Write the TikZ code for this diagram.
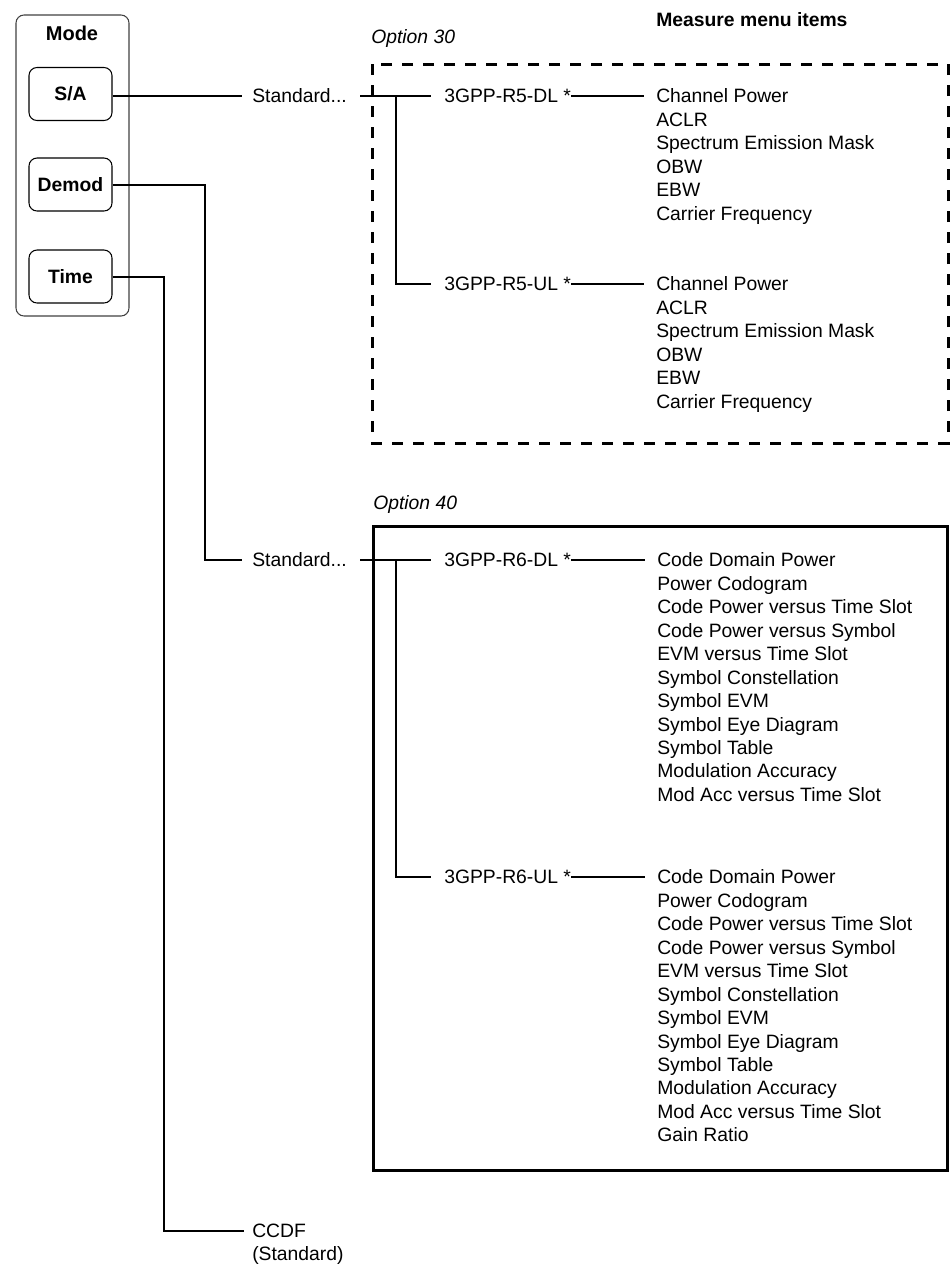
\documentclass[tikz,border=0pt]{standalone}
\usepackage{fontspec}
\setmainfont{Liberation Sans}
\usetikzlibrary{positioning, calc}

\newcommand{\rfiveitems}{Channel Power, ACLR, Spectrum Emission Mask, OBW, EBW, Carrier Frequency}
\newcommand{\rsixitems}{Code Domain Power, Power Codogram, Code Power versus Time Slot, Code Power versus Symbol, EVM versus Time Slot, Symbol Constellation, Symbol EVM, Symbol Eye Diagram, Symbol Table, Modulation Accuracy, Mod Acc versus Time Slot}

\begin{document}
\begin{tikzpicture}[x=0.75pt, y=-0.75pt,
  txt/.style={inner sep=0pt, anchor=west, text height=10.4pt, text depth=0pt,
              font=\fontsize{14.5}{17}\selectfont},
  btn/.style={draw, rounded corners=6pt, line width=0.8pt, minimum width=62.25pt,
              minimum height=39.75pt, text height=10.4pt, text depth=0pt,
              font=\fontsize{14.5}{17}\selectfont\bfseries},
  conn/.style={line width=1.5pt},
  optbox/.style={line width=2.25pt},
]
\useasboundingbox (0,0) rectangle (950,1264);

% Mode panel
\node[draw=black!75, rounded corners=6pt, line width=0.8pt, minimum width=84.75pt,
      minimum height=225.75pt, inner sep=0pt] (panel) at (72.5,165.5) {};
\node[inner sep=0pt, text height=10.7pt, text depth=0pt,
      font=\fontsize{15}{17}\selectfont\bfseries] (modelbl) at (72,33) {Mode};
\node[btn] (sa) at (70.5,94) {S/A};
\node[btn] (demod) at (70.5,184.5) {Demod};
\node[btn] (time) at (70.5,276.5) {Time};

% Headings
\node[txt, font=\fontsize{14.5}{17}\selectfont\bfseries] (menuhdr) at (656,20) {Measure menu items};
\node[txt, font=\fontsize{14.5}{17}\selectfont\itshape] (opt30) at (371,37) {Option 30};
\node[txt, font=\fontsize{14.5}{17}\selectfont\itshape] (opt40) at (373,503) {Option 40};

% Option 30 frame
\draw[optbox, dash pattern=on 8.25pt off 7.5pt] (372,64) rectangle (948,443);

% S/A branch
\node[txt] (std1) at (252,96) {Standard...};
\node[txt] (r5dl) at (444,96) {3GPP-R5-DL *};
\node[txt] (r5ul) at (444,284) {3GPP-R5-UL *};
\coordinate (j1) at (396,96);
\draw[conn] (sa.east |- std1.west) -- ($(std1.west)+(-10,0)$);
\draw[conn] ($(std1.east)+(13,0)$) -- ($(r5dl.west)+(-13,0)$);
\draw[conn] (j1) |- ($(r5ul.west)+(-13,0)$);

\foreach \blk/\ypos in {r5dl/96, r5ul/284} {
  \foreach \itm [count=\i from 0] in \rfiveitems
    \node[txt] (\blk-\i) at (656,\ypos+23.45*\i) {\itm};
  \draw[conn] (\blk.east) -- ($(\blk-0.west)+(-12,0)$);
}

% Option 40 frame
\draw[optbox] (373,526) rectangle (947,1170);

% Demod branch
\node[txt] (std2) at (252,560) {Standard...};
\node[txt] (r6dl) at (444,560) {3GPP-R6-DL *};
\node[txt] (r6ul) at (444,877) {3GPP-R6-UL *};
\coordinate (demodbend) at (205,560);
\coordinate (j2) at (396,560);
\draw[conn] (demod.east) -| (demodbend) -- ($(std2.west)+(-10,0)$);
\draw[conn] ($(std2.east)+(13,0)$) -- ($(r6dl.west)+(-13,0)$);
\draw[conn] (j2) |- ($(r6ul.west)+(-13,0)$);

\foreach \blk/\ypos in {r6dl/560, r6ul/877} {
  \foreach \itm [count=\i from 0] in \rsixitems
    \node[txt] (\blk-\i) at (657,\ypos+23.45*\i) {\itm};
  \draw[conn] (\blk.east) -- ($(\blk-0.west)+(-12,0)$);
}
\node[txt] (r6ul-11) at (657,877+23.45*11) {Gain Ratio};

% Time branch
\node[txt] (ccdf) at (252,1231) {CCDF};
\node[txt] (ccdfstd) at (252,1254) {(Standard)};
\coordinate (timebend) at (164,1231);
\draw[conn] (time.east) -| (timebend) -- ($(ccdf.west)+(-8,0)$);
\end{tikzpicture}
\end{document}
